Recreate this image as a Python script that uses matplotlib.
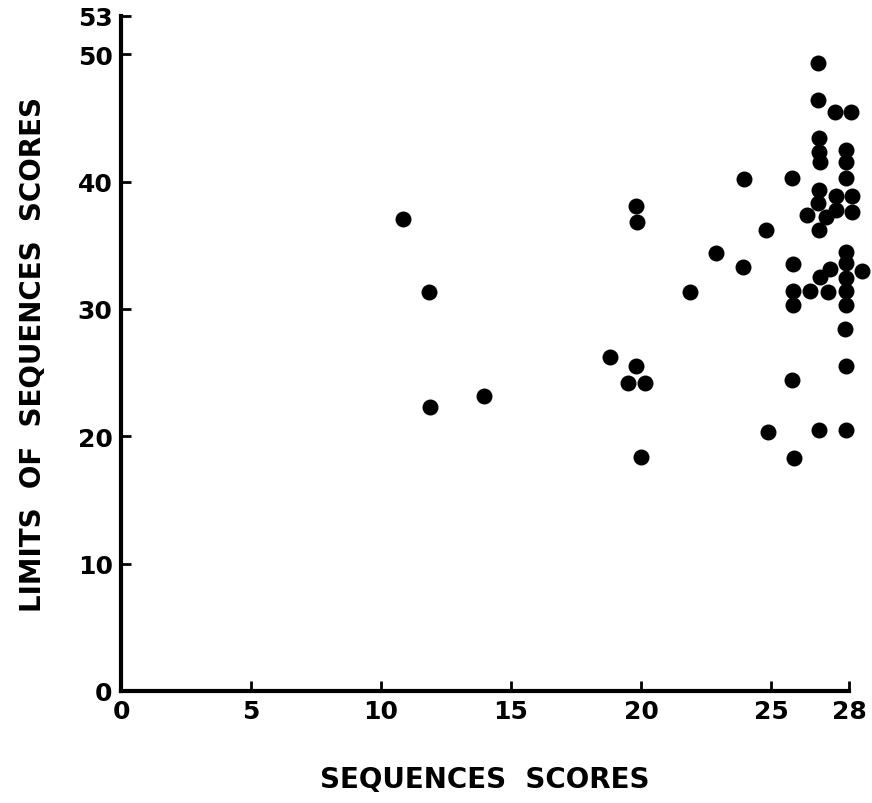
import matplotlib
matplotlib.use("Agg")
import matplotlib.pyplot as plt

# Values
seq_scores = [10.85, 11.85, 11.9, 13.96, 18.8,
              19.8, 19.83, 19.8, 19.5, 20.15, 20.0,
              21.9, 22.9, 23.94, 23.96,
              24.8, 24.87,
              25.8, 25.86, 25.86, 25.86, 25.8, 25.9,
              26.8, 26.8, 26.85, 26.85, 26.9, 26.85, 26.8, 26.85, 26.9, 26.86,
              26.4, 26.5, 27.1, 27.2, 27.27, 27.5, 27.5, 27.45,
              28.08, 27.9, 27.9, 27.9, 27.9, 27.9, 27.9, 27.9, 27.9, 27.85, 27.9, 27.9,
              28.1, 28.1, 28.5]
limit_scores = [37.1, 31.3, 22.3, 23.2, 26.2,
                38.1, 36.8, 25.5, 24.2, 24.2, 18.4,
                31.3, 34.4, 33.3, 40.2,
                36.2, 20.3,
                40.3, 33.5, 31.4, 30.3, 24.4, 18.3,
                49.3, 46.4, 43.4, 42.3, 41.5, 39.3, 38.3, 36.2, 32.5, 20.5,
                37.35, 31.4, 37.2, 31.3, 33.1, 38.9, 37.75, 45.5,
                45.5, 42.5, 41.5, 40.3, 34.5, 33.6, 32.4, 31.4, 30.3, 28.4, 25.5, 20.5,
                38.9, 37.6, 33.0]

x_ticks = [0, 5, 10, 15, 20, 25, 28]
y_ticks = [0, 10, 20, 30, 40, 50, 53]

fig = plt.figure(figsize=(8.72, 8.04), dpi=100)
ax = fig.add_axes([121 / 872, 1 - 692 / 804, (849 - 121) / 872, (692 - 17) / 804])

ax.plot(seq_scores, limit_scores, "o", color="black", markersize=11.5,
        markeredgewidth=0, clip_on=False)

ax.set_xlim(0, 28)
ax.set_ylim(0, 53)
ax.set_xticks(x_ticks)
ax.set_yticks(y_ticks)
ax.set_xticklabels([str(t) for t in x_ticks], fontsize=18, fontweight="bold")
ax.set_yticklabels([str(t) for t in y_ticks], fontsize=18, fontweight="bold")

for side in ["top", "right"]:
    ax.spines[side].set_visible(False)
for side in ["left", "bottom"]:
    ax.spines[side].set_linewidth(3)
ax.tick_params(direction="in", length=7, width=2, pad=6)

ax.set_xlabel("SEQUENCES  SCORES", fontsize=20, fontweight="bold", labelpad=30)
ax.set_ylabel("LIMITS  OF  SEQUENCES  SCORES", fontsize=20, fontweight="bold", labelpad=22)

fig.savefig("out.png", dpi=100)
